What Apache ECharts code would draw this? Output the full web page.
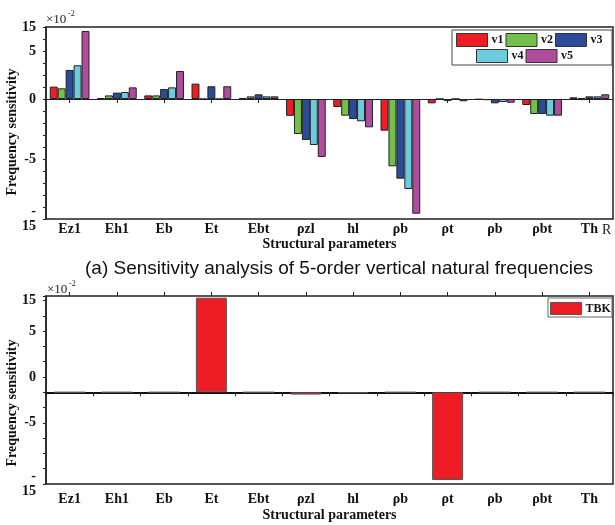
<!DOCTYPE html>
<html>
<head>
<meta charset="utf-8">
<script src="https://cdn.jsdelivr.net/npm/echarts@6/dist/echarts.min.js"></script>
<style>
  html, body { margin: 0; padding: 0; background: #fff; }
  #main { width: 615px; height: 525px; }
</style>
</head>
<body>
<div id="main"></div>
<script>
// 结构参数
var categories = ['Ez1', 'Eh1', 'Eb', 'Et', 'Ebt', 'ρzl', 'hl', 'ρb', 'ρt', 'ρb', 'ρbt', 'Th']
// 5阶竖向频率灵敏度 (one unit = one minor tick)
var v1 = [1.03, 0.08, 0.30, 1.28, 0.08, -1.40, -0.67, -2.64, -0.36, -0.05, -0.50, 0.14]
var v2 = [0.89, 0.30, 0.30, 0, 0.22, -2.92, -1.39, -5.61, 0, -0.10, -1.25, 0.08]
var v3 = [2.42, 0.53, 0.83, 1.06, 0.39, -3.42, -1.67, -6.64, -0.17, -0.36, -1.25, 0.22]
var v4 = [2.81, 0.58, 0.97, 0, 0.22, -3.83, -1.86, -7.50, 0, -0.25, -1.39, 0.22]
var v5 = [5.67, 0.97, 2.33, 1.06, 0.22, -4.83, -2.36, -9.56, -0.19, -0.31, -1.39, 0.39]
var tbk = [0, 0, 0, 6.19, 0, -0.15, -0.05, 0, -5.74, 0, 0, 0]
// y轴刻度标签
var topTickLabels = { '6': '15', '4': '5', '0': '0', '-5': '-5', '-10': '-\n15' }
var bottomTickLabels = { '6': '15', '4': '5', '1': '0', '-2': '-5', '-6': '-\n15' }

var seriesNames = ['v1', 'v2', 'v3', 'v4', 'v5']
var seriesData = [v1, v2, v3, v4, v5]
var colors = ['#ee1c25', '#72c04a', '#2b4c9b', '#6ccbdd', '#b04c9e']

var serif = 'Liberation Serif'
var labelStyle = { fontFamily: serif, fontWeight: 'bold', fontSize: 14, color: '#111' }

function yAxisFor (gridIndex, min, max, labels, namePad) {
  return {
    type: 'value',
    gridIndex: gridIndex,
    min: min,
    max: max,
    interval: 1,
    name: 'Frequency sensitivity',
    nameLocation: 'middle',
    nameGap: 27,
    nameMoveOverlap: false,
    nameTextStyle: { fontFamily: serif, fontWeight: 'bold', fontSize: 14, color: '#111', padding: namePad },
    axisLine: { show: true, lineStyle: { color: '#222', width: 1.5 } },
    axisTick: { show: true, length: 3, lineStyle: { color: '#222' } },
    splitLine: { show: false },
    axisLabel: Object.assign({
      margin: 10,
      lineHeight: 15,
      formatter: function (val) {
        var s = labels[String(Math.round(val * 100) / 100)]
        return s === undefined ? '' : s
      }
    }, labelStyle)
  }
}

function legendFor (names, left, top, h, gap, fontSize, border) {
  return {
    data: names,
    left: left,
    top: top,
    icon: 'rect',
    itemWidth: 31,
    itemHeight: h,
    itemGap: gap,
    padding: 0,
    textStyle: { fontFamily: serif, fontWeight: 'bold', fontSize: fontSize, color: '#111', padding: [0, 0, 0, -1] },
    itemStyle: { borderColor: border, borderWidth: 1 }
  }
}

var chart = echarts.init(document.getElementById('main'))

var series = seriesNames.map(function (name, i) {
  return {
    name: name,
    type: 'bar',
    xAxisIndex: 0,
    yAxisIndex: 0,
    barGap: '0%',
    barCategoryGap: '16%',
    data: seriesData[i],
    itemStyle: { color: colors[i], borderColor: '#222', borderWidth: 1 }
  }
})
series.push({
  name: 'TBK',
  type: 'bar',
  xAxisIndex: 2,
  yAxisIndex: 1,
  barWidth: 31,
  data: tbk,
  itemStyle: { color: '#ee1c25', borderColor: '#555', borderWidth: 1 }
})

chart.setOption({
  backgroundColor: '#fff',
  animation: false,
  title: {
    text: '(a) Sensitivity analysis of 5-order vertical natural frequencies',
    left: 80,
    top: 254,
    textStyle: { fontFamily: 'Liberation Sans', fontWeight: 'normal', fontSize: 19, color: '#111' }
  },
  legend: [
    legendFor(['v1', 'v2', 'v3'], 456, 33, 13, 2, 12, '#333'),
    legendFor(['v4', 'v5'], 476, 49, 13, 2, 12, '#333'),
    legendFor(['TBK'], 550, 302, 12, 2, 12, '#555')
  ],
  grid: [
    { left: 46, right: 2, top: 27, height: 192, show: true, borderColor: '#222', borderWidth: 1.5, outerBoundsMode: 'none', containLabel: false },
    { left: 46, right: 2, top: 296, height: 188, show: true, borderColor: '#222', borderWidth: 1.5, outerBoundsMode: 'none', containLabel: false }
  ],
  xAxis: [
    // 上图: 零线刻度
    {
      type: 'category', gridIndex: 0, data: categories,
      axisLine: { onZero: true, lineStyle: { color: '#222', width: 1 } },
      axisTick: { show: true, alignWithLabel: true, length: 4, lineStyle: { color: '#222' } },
      axisLabel: { show: false }
    },
    // 上图: 底部标签
    {
      type: 'category', gridIndex: 0, data: categories, position: 'bottom',
      name: 'Structural parameters', nameLocation: 'middle', nameGap: 18,
      nameTextStyle: { fontFamily: serif, fontWeight: 'bold', fontSize: 14, color: '#111' },
      axisLine: { show: false, onZero: false },
      axisTick: { show: false },
      axisLabel: Object.assign({ margin: 3 }, labelStyle)
    },
    // 下图: 零线
    {
      type: 'category', gridIndex: 1, data: categories,
      axisLine: { onZero: true, lineStyle: { color: '#111', width: 2 } },
      axisTick: { show: true, length: 4, lineStyle: { color: '#222' } },
      axisLabel: { show: false }
    },
    {
      type: 'category', gridIndex: 1, data: categories,
      axisLine: { show: false, onZero: true },
      axisTick: { show: true, alignWithLabel: true, length: 4, lineStyle: { color: '#222' } },
      axisLabel: { show: false }
    },
    // 下图: 底部标签
    {
      type: 'category', gridIndex: 1, data: categories, position: 'bottom',
      name: 'Structural parameters', nameLocation: 'middle', nameGap: 24,
      nameTextStyle: { fontFamily: serif, fontWeight: 'bold', fontSize: 14, color: '#111' },
      axisLine: { show: false, onZero: false },
      axisTick: { show: false },
      axisLabel: Object.assign({ margin: 8 }, labelStyle)
    }
  ],
  yAxis: [
    yAxisFor(0, -10, 6, topTickLabels, [0, 18, 0, 0]),
    yAxisFor(1, -6, 6.3, bottomTickLabels, [0, 26, 0, 0])
  ],
  graphic: [
    { type: 'rect', shape: { x: 452, y: 30, width: 160, height: 35 }, style: { fill: 'none', stroke: '#444', lineWidth: 1 }, z: 10 },
    { type: 'rect', shape: { x: 548, y: 298, width: 64, height: 19 }, style: { fill: 'none', stroke: '#666', lineWidth: 1 }, z: 10 },
    { type: 'text', left: 46, top: 13, style: { text: '×10', font: '13px "Liberation Serif"', fill: '#222' } },
    { type: 'text', left: 68, top: 10, style: { text: '-2', font: '8px "Liberation Serif"', fill: '#222' } },
    { type: 'text', left: 47, top: 283, style: { text: '×10', font: '13px "Liberation Serif"', fill: '#222' } },
    { type: 'text', left: 69, top: 280, style: { text: '-2', font: '8px "Liberation Serif"', fill: '#222' } },
    { type: 'text', left: 602, top: 223, style: { text: 'R', font: '14px "Liberation Serif"', fill: '#222' } }
  ],
  series: series
})
</script>
</body>
</html>
